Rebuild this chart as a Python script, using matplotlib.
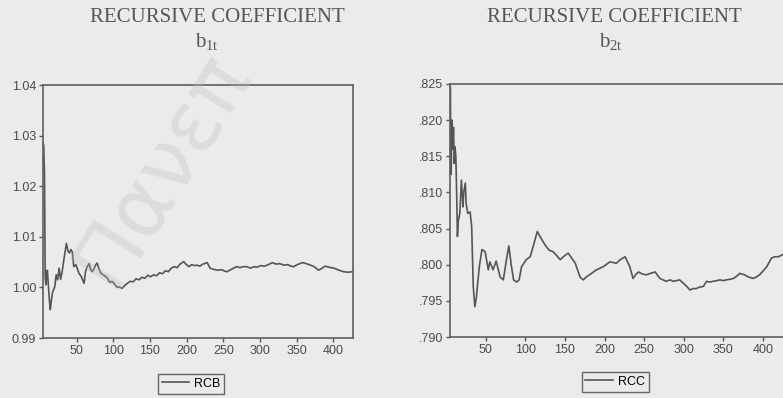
import matplotlib.pyplot as plt

# recursive coefficient b1t (RCB)
rcb_obs = [4, 5, 6, 7, 8, 9, 10, 11, 12, 13, 14, 15, 17, 20, 22, 24, 26, 28, 30, 33,
           36, 38, 40, 42, 44, 46, 49, 53, 56, 60, 62, 64, 67, 69, 71, 74, 76, 78, 80, 83,
           86, 89, 92, 95, 98, 101, 105, 108, 112, 115, 119, 123, 127, 131, 135, 139, 143, 147, 151, 155,
           159, 163, 167, 171, 175, 179, 183, 187, 191, 196, 199, 203, 207, 211, 214, 218, 222, 228, 232, 236,
           242, 248, 252, 255, 260, 264, 268, 273, 277, 282, 287, 292, 296, 301, 306, 310, 317, 322, 327, 333,
           338, 342, 346, 351, 358, 363, 369, 374, 380, 385, 389, 394, 401, 406, 410, 414, 420, 426]
rcb_val = [1.0285, 1.0280, 1.0225, 1.0020, 1.0005, 1.0030, 1.0034, 1.0010, 0.9990, 0.9970,
           0.9956, 0.9970, 0.9990, 1.0001, 1.0025, 1.0015, 1.0038, 1.0016, 1.0030, 1.0060,
           1.0087, 1.0072, 1.0068, 1.0075, 1.0070, 1.0041, 1.0045, 1.0028, 1.0022, 1.0008,
           1.0031, 1.0040, 1.0047, 1.0035, 1.0031, 1.0038, 1.0045, 1.0048, 1.0038, 1.0028,
           1.0025, 1.0022, 1.0018, 1.0010, 1.0012, 1.0008, 1.0000, 1.0001, 0.9998, 1.0003,
           1.0008, 1.0012, 1.0011, 1.0017, 1.0015, 1.0020, 1.0018, 1.0024, 1.0021, 1.0025,
           1.0023, 1.0029, 1.0027, 1.0033, 1.0031, 1.0038, 1.0041, 1.0039, 1.0046, 1.0051,
           1.0046, 1.0041, 1.0045, 1.0043, 1.0044, 1.0042, 1.0046, 1.0049, 1.0038, 1.0036,
           1.0034, 1.0035, 1.0032, 1.0031, 1.0035, 1.0038, 1.0041, 1.0039, 1.0041, 1.0041,
           1.0038, 1.0041, 1.0040, 1.0043, 1.0042, 1.0044, 1.0049, 1.0046, 1.0047, 1.0044,
           1.0045, 1.0042, 1.0041, 1.0045, 1.0049, 1.0047, 1.0044, 1.0041, 1.0034, 1.0038,
           1.0042, 1.0040, 1.0038, 1.0035, 1.0033, 1.0031, 1.0030, 1.0031]

# recursive coefficient b2t (RCC)
rcc_obs = [4, 5, 6, 7, 8, 9, 10, 11, 12, 13, 14, 15, 17, 19, 21, 22, 24, 25, 27, 30,
           32, 34, 36, 38, 40, 42, 45, 49, 53, 55, 59, 63, 68, 72, 76, 79, 82, 85, 89, 92,
           95, 101, 106, 112, 115, 120, 125, 130, 135, 140, 144, 149, 154, 158, 163, 169, 173, 177, 181, 186,
           190, 194, 198, 203, 207, 211, 215, 220, 226, 232, 236, 240, 243, 248, 253, 258, 264, 270, 274, 278,
           283, 287, 291, 295, 300, 304, 308, 312, 316, 320, 325, 329, 333, 337, 342, 346, 350, 354, 359, 363,
           367, 371, 377, 382, 388, 392, 396, 401, 405, 408, 411, 415, 420, 425]
rcc_val = [0.8125, 0.8246, 0.8125, 0.8200, 0.8160, 0.8190, 0.8140, 0.8163, 0.8150, 0.8100,
           0.8039, 0.8060, 0.8071, 0.8117, 0.8080, 0.8100, 0.8113, 0.8085, 0.8071, 0.8073,
           0.8053, 0.7970, 0.7942, 0.7955, 0.7979, 0.8000, 0.8021, 0.8018, 0.7993, 0.8004,
           0.7993, 0.8005, 0.7983, 0.7979, 0.8007, 0.8026, 0.8000, 0.7979, 0.7976, 0.7979,
           0.7997, 0.8007, 0.8011, 0.8034, 0.8046, 0.8036, 0.8027, 0.8020, 0.8018, 0.8012,
           0.8007, 0.8012, 0.8016, 0.8010, 0.8002, 0.7983, 0.7979, 0.7983, 0.7986, 0.7990,
           0.7993, 0.7995, 0.7997, 0.8001, 0.8004, 0.8003, 0.8002, 0.8007, 0.8011, 0.7997,
           0.7981, 0.7987, 0.7990, 0.7987, 0.7986, 0.7988, 0.7990, 0.7981, 0.7979, 0.7977,
           0.7979, 0.7977, 0.7978, 0.7979, 0.7974, 0.7970, 0.7965, 0.7967, 0.7967, 0.7969,
           0.7970, 0.7977, 0.7976, 0.7977, 0.7978, 0.7979, 0.7978, 0.7979, 0.7980, 0.7981,
           0.7984, 0.7988, 0.7986, 0.7983, 0.7981, 0.7983, 0.7986, 0.7992, 0.7997, 0.8003,
           0.8009, 0.8011, 0.8011, 0.8014]

xticks = [50, 100, 150, 200, 250, 300, 350, 400]
yticks_b1 = [0.99, 1.00, 1.01, 1.02, 1.03, 1.04]
yticks_b2 = [0.790, 0.795, 0.800, 0.805, 0.810, 0.815, 0.820, 0.825]

BG = "#ebebeb"
INK = "#555555"

plt.rcParams["font.family"] = ["Liberation Sans", "DejaVu Sans"]
plt.rcParams["mathtext.fontset"] = "custom"
plt.rcParams["mathtext.rm"] = "Liberation Serif"

W, H = 783, 398
fig = plt.figure(figsize=(W / 100, H / 100), dpi=100, facecolor=BG)


def box(l, t, r, b):
    return [l / W, 1 - b / H, (r - l) / W, (b - t) / H]


def style(ax, yticks, ylabels, ylim, xlim):
    ax.set_facecolor(BG)
    ax.set_xlim(*xlim)
    ax.set_ylim(*ylim)
    ax.set_xticks(xticks)
    ax.set_yticks(yticks)
    ax.set_yticklabels(ylabels)
    ax.tick_params(direction="out", length=3, width=1, colors=INK,
                   labelcolor="#4a4a4a", labelsize=9, pad=2)
    for s in ax.spines.values():
        s.set_color("#5e5e5e")
        s.set_linewidth(1.2)


ax1 = fig.add_axes(box(43, 85, 353, 338))
ax1.plot(rcb_obs, rcb_val, color=INK, lw=1.2, label="RCB")
style(ax1, yticks_b1, ["0.99", "1.00", "1.01", "1.02", "1.03", "1.04"],
      (0.99, 1.04), (4, 427))

ax2 = fig.add_axes(box(450, 84, 788, 337))
ax2.plot(rcc_obs, rcc_val, color=INK, lw=1.2, label="RCC")
style(ax2, yticks_b2, [".790", ".795", ".800", ".805", ".810", ".815", ".820", ".825"],
      (0.790, 0.825), (4.6, 432))

for ax, cx, cy in [(ax1, 191, 374), (ax2, 615, 372)]:
    ax.legend(loc="upper center", bbox_to_anchor=(cx / W, 1 - cy / H),
              bbox_transform=fig.transFigure, fancybox=False, edgecolor="#666666",
              facecolor=BG, framealpha=1, fontsize=9, handlelength=2.2,
              borderpad=0.3, handletextpad=0.4, borderaxespad=0)

# titles
tkw = dict(ha="center", va="center", color="#555555", family="Liberation Serif")
fig.text(217 / W, 1 - 17 / H, "RECURSIVE COEFFICIENT", fontsize=15, **tkw)
fig.text(207 / W, 1 - 41 / H, r"$\mathrm{b_{1t}}$", fontsize=15, **tkw)
fig.text(614 / W, 1 - 17 / H, "RECURSIVE COEFFICIENT", fontsize=15, **tkw)
fig.text(611 / W, 1 - 41 / H, r"$\mathrm{b_{2t}}$", fontsize=15, **tkw)

# faint library watermark
fig.text(162 / W, 1 - 168 / H, "Πανεπ", fontsize=60, rotation=58,
         ha="center", va="center", color="#bbbbbb", alpha=0.3,
         family="DejaVu Sans", zorder=10)

fig.savefig("out.png", dpi=100, facecolor=BG)
